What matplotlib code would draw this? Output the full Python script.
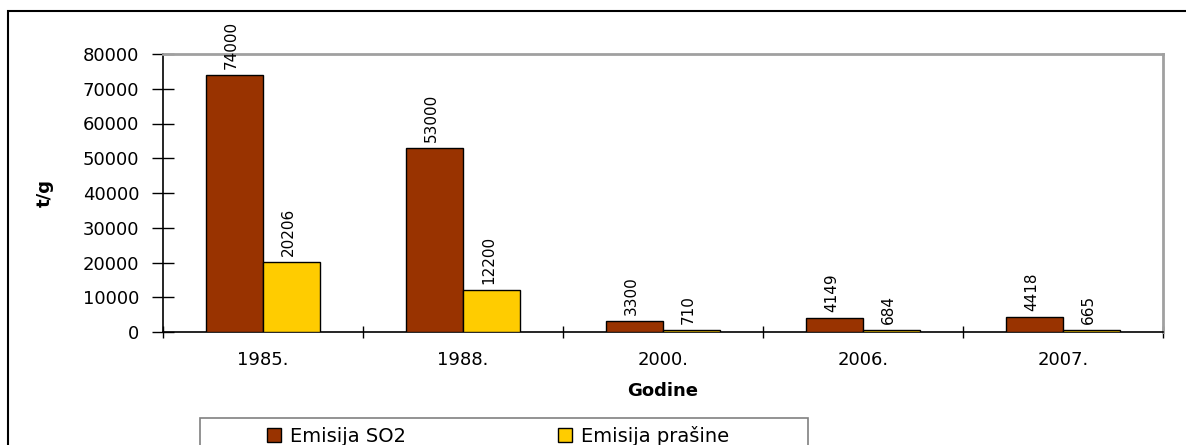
import matplotlib
matplotlib.use("Agg")
import matplotlib.pyplot as plt
import numpy as np
from matplotlib.patches import Rectangle

plt.rcParams['font.family'] = ['DejaVu Sans']

years = ["1985.", "1988.", "2000.", "2006.", "2007."]
so2 = [74000, 53000, 3300, 4149, 4418]
dust = [20206, 12200, 710, 684, 665]
series_names = ["Emisija SO2", "Emisija prašine"]
colors = ["#993300", "#FFCC00"]

W, H = 1186, 445
fig = plt.figure(figsize=(W / 100, H / 100), dpi=100)

# outer chart frame (runs past the right and bottom edges)
fig.patches.append(Rectangle((8 / W, -0.1), 1.2, 1 - 11 / H + 0.1,
                             transform=fig.transFigure, fill=False,
                             edgecolor="black", linewidth=1.5, zorder=0))

ax = fig.add_axes([163 / W, 1 - 332 / H, 1000 / W, 278 / H])
x = np.arange(len(years))
bw = 0.285
b1 = ax.bar(x - bw / 2, so2, bw, color=colors[0], edgecolor="black",
            linewidth=1.0, label=series_names[0], zorder=3)
b2 = ax.bar(x + bw / 2, dust, bw, color=colors[1], edgecolor="black",
            linewidth=1.0, label=series_names[1], zorder=3)

for bars, vals in ((b1, so2), (b2, dust)):
    for rect, v in zip(bars, vals):
        ax.annotate(str(v), (rect.get_x() + rect.get_width() / 2, v),
                    xytext=(-2, 4), textcoords="offset points",
                    rotation=90, ha="center", va="bottom", fontsize=11)

ax.set_xlim(-0.5, len(years) - 0.5)
ax.set_ylim(0, 80000)
ax.set_yticks(np.arange(0, 80001, 10000))
ax.set_yticklabels([str(v) for v in range(0, 80001, 10000)], fontsize=13)
ax.set_xticks(x)
ax.set_xticklabels(years, fontsize=13)
ax.set_xticks(np.arange(-0.5, len(years)), minor=True)
ax.tick_params(axis="x", which="major", length=0, pad=14)
ax.tick_params(axis="x", which="minor", direction="inout", length=9, width=1)
ax.tick_params(axis="y", direction="inout", length=16, width=1, pad=9)

for side in ("top", "right"):
    ax.spines[side].set_color("#a0a0a0")
    ax.spines[side].set_linewidth(2)
ax.spines["left"].set_linewidth(1.2)
ax.spines["bottom"].set_linewidth(1.2)

ax.set_xlabel("Godine", fontsize=13, fontweight="bold", labelpad=9)
ax.set_ylabel("t/g", fontsize=13, fontweight="bold", labelpad=21)

# legend box, open at the bottom edge of the figure
fig.patches.append(Rectangle((200 / W, -0.1), 608 / W, 1 - 418 / H + 0.1,
                             transform=fig.transFigure, fill=False,
                             edgecolor="#808080", linewidth=1.2, zorder=1))
leg = fig.legend(handles=[b1, b2], labels=series_names, loc="upper left",
                 bbox_to_anchor=(259 / W, 1 - 418 / H), ncol=2,
                 frameon=False, fontsize=14,
                 handlelength=0.75, handleheight=0.75, handletextpad=0.45,
                 columnspacing=7.8, borderpad=0.4, borderaxespad=0)

fig.savefig("out.png", dpi=100)
